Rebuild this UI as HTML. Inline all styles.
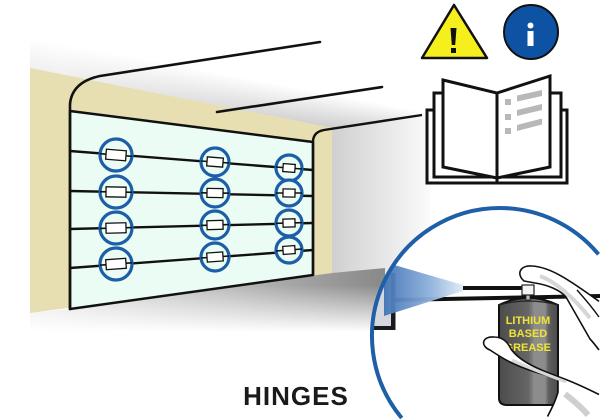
<!DOCTYPE html>
<html>
<head>
<meta charset="utf-8">
<style>
html,body{margin:0;padding:0;background:#fff;width:600px;height:419px;overflow:hidden;}
svg{display:block;overflow:hidden;}
</style>
</head>
<body>
<svg width="600" height="419" viewBox="0 0 600 419" xmlns="http://www.w3.org/2000/svg">
<defs>
  <linearGradient id="ceil" gradientUnits="userSpaceOnUse" x1="250" y1="112" x2="256" y2="80">
    <stop offset="0" stop-color="#c9c9c9"/>
    <stop offset="1" stop-color="#ffffff"/>
  </linearGradient>
  <linearGradient id="ceilR" gradientUnits="userSpaceOnUse" x1="60" y1="0" x2="380" y2="0">
    <stop offset="0" stop-color="#fff" stop-opacity="0.7"/>
    <stop offset="1" stop-color="#fff" stop-opacity="0"/>
  </linearGradient>
  <linearGradient id="wallR" gradientUnits="userSpaceOnUse" x1="332" y1="0" x2="440" y2="0">
    <stop offset="0" stop-color="#d0d0d0"/>
    <stop offset="1" stop-color="#ffffff"/>
  </linearGradient>
  <linearGradient id="floorH" gradientUnits="userSpaceOnUse" x1="40" y1="0" x2="380" y2="0">
    <stop offset="0" stop-color="#e6e6e6"/>
    <stop offset="0.6" stop-color="#b4b4b4"/>
    <stop offset="1" stop-color="#8a8a8a"/>
  </linearGradient>
  <linearGradient id="floorV" gradientUnits="userSpaceOnUse" x1="0" y1="285" x2="0" y2="332">
    <stop offset="0" stop-color="#fff" stop-opacity="0"/>
    <stop offset="1" stop-color="#fff" stop-opacity="1"/>
  </linearGradient>
  <linearGradient id="cone" gradientUnits="userSpaceOnUse" x1="380" y1="0" x2="465" y2="0">
    <stop offset="0" stop-color="#3c6fb2"/>
    <stop offset="0.6" stop-color="#8fb2dc"/>
    <stop offset="1" stop-color="#e6eef9"/>
  </linearGradient>
  <linearGradient id="can" gradientUnits="userSpaceOnUse" x1="499" y1="0" x2="558" y2="0">
    <stop offset="0" stop-color="#4c4c4c"/>
    <stop offset="0.5" stop-color="#666"/>
    <stop offset="0.6" stop-color="#8c8c8c"/>
    <stop offset="0.78" stop-color="#8c8c8c"/>
    <stop offset="0.84" stop-color="#5f5f5f"/>
    <stop offset="1" stop-color="#4a4a4a"/>
  </linearGradient>
  <clipPath id="cc"><path d="M402.6,419 A128,128 0 0 1 500,208 A128,128 0 0 1 600,256 L600,419 Z"/></clipPath>
  <clipPath id="frame"><rect x="0" y="0" width="600" height="419"/></clipPath>
</defs>

<g clip-path="url(#frame)">
<!-- ceiling shading -->
<polygon points="30,68 332,128 430,113 430,30 30,30" fill="url(#ceil)"/>
<polygon points="30,68 332,128 430,113 430,30 30,30" fill="url(#ceilR)"/>
<!-- right wall -->
<polygon points="332,128 430,113 430,280 332,280" fill="url(#wallR)"/>
<!-- floor -->
<polygon points="30,313 70,309 313,275 332,273 385,268 385,336 30,336" fill="url(#floorH)"/>
<polygon points="30,313 70,309 313,275 332,273 385,268 385,336 30,336" fill="url(#floorV)"/>

<!-- beige wall -->
<polygon points="30,68 332,128 332,273 30,313" fill="#e7deb1"/>

<!-- door -->
<polygon points="70,111 313,142 313,275 70,309" fill="#eafcf3" stroke="#111" stroke-width="2.5" stroke-linejoin="round"/>

<!-- arch line -->
<path d="M320,42 L100,76 Q72,82 70,104 L70,309" fill="none" stroke="#111" stroke-width="2.6" stroke-linecap="round"/>
<!-- second ceiling line -->
<line x1="217" y1="112" x2="382" y2="87" stroke="#111" stroke-width="2.6" stroke-linecap="round"/>
<!-- right post line to book -->
<path d="M313,275 L313,142 Q313,132 324,130 L422,115" fill="none" stroke="#111" stroke-width="2.4"/>

<!-- panel lines -->
<g stroke="#111" stroke-width="2.4">
  <line x1="70" y1="151" x2="313" y2="170"/>
  <line x1="70" y1="191" x2="313" y2="196"/>
  <line x1="70" y1="229" x2="313" y2="223"/>
  <line x1="70" y1="268" x2="313" y2="250"/>
</g>

<!-- hinges -->
<g fill="#eafcf3" stroke="#1d5ea8" stroke-width="3.2">
  <circle cx="116" cy="155" r="16"/>
  <circle cx="116" cy="192" r="16"/>
  <circle cx="116" cy="228" r="16"/>
  <circle cx="116" cy="264" r="16"/>
  <circle cx="215" cy="162" r="14"/>
  <circle cx="215" cy="193" r="14"/>
  <circle cx="215" cy="225" r="14"/>
  <circle cx="215" cy="257" r="14"/>
  <circle cx="289" cy="168" r="13"/>
  <circle cx="289" cy="193" r="13"/>
  <circle cx="289" cy="223" r="13"/>
  <circle cx="289" cy="250" r="13"/>
</g>
<g stroke="#111" stroke-width="1.6">
  <line x1="100" y1="153.7" x2="132" y2="156.3"/>
  <line x1="100" y1="191.7" x2="132" y2="192.3"/>
  <line x1="100" y1="228.4" x2="132" y2="227.6"/>
  <line x1="100" y1="265.2" x2="132" y2="262.8"/>
  <line x1="201" y1="161" x2="229" y2="163"/>
  <line x1="201" y1="192.8" x2="229" y2="193.2"/>
  <line x1="201" y1="225.4" x2="229" y2="224.6"/>
  <line x1="201" y1="258" x2="229" y2="256"/>
  <line x1="276" y1="167" x2="302" y2="169"/>
  <line x1="276" y1="193" x2="302" y2="193"/>
  <line x1="276" y1="223.3" x2="302" y2="222.7"/>
  <line x1="276" y1="251" x2="302" y2="249"/>
</g>
<g fill="#fff" stroke="#111" stroke-width="1.3">
  <rect x="106" y="150" width="20" height="10" transform="rotate(4.5 116 155)"/>
  <rect x="106" y="187" width="20" height="10" transform="rotate(1 116 192)"/>
  <rect x="106" y="223" width="20" height="10" transform="rotate(-1.5 116 228)"/>
  <rect x="106" y="259" width="20" height="10" transform="rotate(-4 116 264)"/>
  <rect x="207" y="157.5" width="16" height="9" transform="rotate(4.5 215 162)"/>
  <rect x="207" y="188.5" width="16" height="9" transform="rotate(1 215 193)"/>
  <rect x="207" y="220.5" width="16" height="9" transform="rotate(-1.5 215 225)"/>
  <rect x="207" y="252.5" width="16" height="9" transform="rotate(-4 215 257)"/>
  <rect x="283" y="164" width="12" height="8" transform="rotate(4.5 289 168)"/>
  <rect x="283" y="189" width="12" height="8" transform="rotate(1 289 193)"/>
  <rect x="283" y="219" width="12" height="8" transform="rotate(-1.5 289 223)"/>
  <rect x="283" y="246" width="12" height="8" transform="rotate(-4 289 250)"/>
</g>

<!-- warning triangle -->
<polygon points="454,5 487,58 422,58" fill="#f6ef1e" stroke="#111" stroke-width="2.5" stroke-linejoin="round"/>
<polygon points="450.5,28 456.5,28 455.2,45 451.8,45" fill="#111"/>
<rect x="451" y="48" width="5" height="5" fill="#111"/>

<!-- info circle -->
<circle cx="531" cy="32" r="27" fill="#0e52a4" stroke="#111" stroke-width="2"/>
<circle cx="530.5" cy="25.5" r="3" fill="#fff"/>
<rect x="527.5" y="31" width="6" height="15" fill="#fff"/>

<!-- book -->
<g fill="none" stroke="#111" stroke-width="3" stroke-linejoin="miter">
  <path d="M434,110 H427 V183 H567 V110 H561"/>
  <path d="M443,93 H434 V177 H561 V93 H550"/>
  <polygon points="443,80 497,93 497,178 443,167" fill="#fff"/>
  <polygon points="497,93 550,76 550,167 497,178" fill="#fff"/>
  <line x1="497" y1="178" x2="497" y2="183"/>
</g>
<g fill="#b8b8b8">
  <rect x="505" y="99" width="6" height="6"/>
  <rect x="505" y="114" width="6" height="6"/>
  <rect x="505" y="128" width="6" height="6"/>
  <polygon points="517,95.5 542,90 542,96 517,101.5"/>
  <polygon points="517,110 542,104 542,110 517,116"/>
  <polygon points="517,125 542,118.5 542,124.5 517,131"/>
</g>

<!-- HINGES label -->
<text x="296" y="405" text-anchor="middle" font-family="'Liberation Sans', Arial, sans-serif" font-weight="bold" font-size="26" letter-spacing="1" fill="#1a1a1a">HINGES</text>

<!-- magnified circle (visible part only) -->
<path d="M402.6,419 A128,128 0 0 1 500,208 A128,128 0 0 1 600,256 L600,419 Z" fill="#fff"/>
<g clip-path="url(#cc)">
  <!-- bracket area -->
  <rect x="360" y="274" width="34" height="55" fill="#d4d8de"/>
  <rect x="360" y="273" width="35" height="3" fill="#555"/>
  <rect x="391" y="273" width="4.5" height="57" fill="#1a1a1a"/>
  <rect x="360" y="326" width="35.5" height="4" fill="#1a1a1a"/>
  <!-- track -->
  <line x1="393" y1="300" x2="600" y2="296" stroke="#111" stroke-width="4"/>
  <!-- spray cone -->
  <polygon points="463,285 463,291 384,316 384,262" fill="url(#cone)" opacity="0.95"/>
  <!-- straw -->
  <line x1="463" y1="288" x2="523" y2="288" stroke="#111" stroke-width="4"/>

  <!-- upper hand -->
  <path d="M524,281 C516,274 520,265 532,266 C550,267 568,279 600,302 L600,352 C596,346 593,342 590,339 L566,297 C560,290 548,285 535,283 Z" fill="#fff"/>
  <path d="M599,301.3 C568,279 550,267 532,266 C520,265 516,274 524,281 L535,283 C548,285 560,290 566,297 L590,339 C593,342 596,346 599,350" fill="none" stroke="#111" stroke-width="1.6" stroke-linejoin="round"/>
  <path d="M540,276 C556,282 572,296 590,318" fill="none" stroke="#d6d6d6" stroke-width="4"/>
  <path d="M577,290 C586,300 594,310 599,317" fill="none" stroke="#111" stroke-width="1.4"/>

  <!-- can -->
  <path d="M499,305 Q528,291 558,305 L558,398 Q558,405 550,405 L507,405 Q499,405 499,398 Z" fill="url(#can)" stroke="#111" stroke-width="2"/>
  <path d="M499,305 Q528,297 558,305" fill="none" stroke="#222" stroke-width="1.2"/>
  <!-- nozzle -->
  <rect x="526" y="294" width="4" height="6" fill="#bbb" stroke="#222" stroke-width="0.8"/>
  <rect x="522" y="285" width="12" height="10" fill="#f4f4f4" stroke="#222" stroke-width="1.2"/>

  <!-- can text -->
  <g font-family="'Liberation Sans', Arial, sans-serif" font-weight="bold" font-size="11" fill="#f0e535">
    <text x="528" y="324" text-anchor="middle">LITHIUM</text>
    <text x="528" y="337" text-anchor="middle">BASED</text>
    <text x="551" y="351" text-anchor="end">GREASE</text>
  </g>

  <!-- lower hand -->
  <path d="M490,350 C480,346 482,336 494,337 C502,337 507,341 511,349 C520,362 540,370 562,378 C578,384 590,390 600,395 L600,419 L546,419 C551,410 556,400 558,392 L558,378 C540,374 522,368 510,362 C502,358 496,354 490,350 Z" fill="#fff"/>
  <path d="M599,394.5 C590,390 578,384 562,378 C540,370 520,362 511,349 C507,341 502,337 494,337 C482,336 480,346 490,350 C496,354 502,358 510,362 C522,368 540,374 558,378 L558,392 C556,400 552,408 547.5,416.5" fill="none" stroke="#111" stroke-width="1.6" stroke-linejoin="round"/>
  <path d="M512,360 C528,368 546,374 566,382" fill="none" stroke="#d8d8d8" stroke-width="3"/>
  <path d="M565,394 C574,401 582,408 588,415" fill="none" stroke="#cfcfcf" stroke-width="6"/>
</g>
<path d="M401.7,418 A128,128 0 0 1 500,208 A128,128 0 0 1 598.5,254.3" fill="none" stroke="#1f5fa8" stroke-width="4"/>
</g>
</svg>
</body>
</html>
